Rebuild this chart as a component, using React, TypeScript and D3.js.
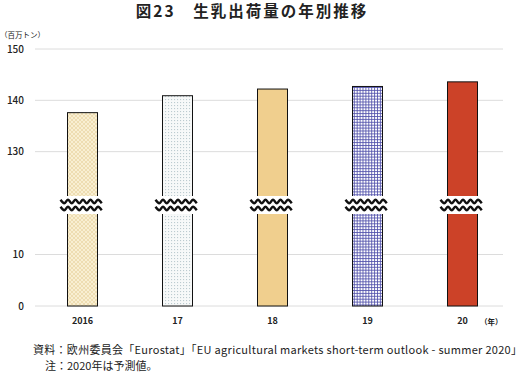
import { useEffect, useRef } from "react";
import * as d3 from "d3";

// データ
const years = ["2016", "17", "18", "19", "20"];
const values = [137.6, 140.9, 142.2, 142.7, 143.6];
const lowTicks = [0, 10];
const highTicks = [130, 140, 150];
const fills = ["url(#p2016)", "url(#p2017)", "#f0cf8e", "url(#p2019)", "#cc4228"];

const W = 531;
const H = 372;
const FONT = "'Noto Sans CJK JP', 'Noto Sans', sans-serif";

export default function App() {
  const svgRef = useRef<SVGSVGElement>(null);

  useEffect(() => {
    if (!svgRef.current) return;
    const svg = d3.select(svgRef.current);
    svg.selectAll("*").remove();

    const left = 35;
    const right = 510;
    const breakY = 203;

    // 軸の省略：下段 0〜20、上段 120〜150
    const yLow = d3.scaleLinear().domain([0, 20]).range([306, breakY]);
    const yHigh = d3.scaleLinear().domain([120, 150]).range([breakY, 49]);
    const y = (v: number) => (v <= 20 ? yLow(v) : yHigh(v));

    const x = d3.scaleBand().domain(years).range([left, right]).padding(0);
    const barW = 30;

    // パターン
    const defs = svg.append("defs");
    const p16 = defs
      .append("pattern")
      .attr("id", "p2016")
      .attr("width", 4)
      .attr("height", 4)
      .attr("patternUnits", "userSpaceOnUse");
    p16.append("rect").attr("width", 4).attr("height", 4).attr("fill", "#f9efd2");
    p16
      .append("path")
      .attr("d", "M0,0L4,4M4,0L0,4")
      .attr("stroke", "#e6d09c")
      .attr("stroke-width", 0.6);

    const p17 = defs
      .append("pattern")
      .attr("id", "p2017")
      .attr("width", 3)
      .attr("height", 3)
      .attr("patternUnits", "userSpaceOnUse");
    p17.append("rect").attr("width", 3).attr("height", 3).attr("fill", "#f7f9f9");
    p17.append("rect").attr("width", 1.1).attr("height", 1.1).attr("fill", "#bccbd0");

    const p19 = defs
      .append("pattern")
      .attr("id", "p2019")
      .attr("width", 2.9)
      .attr("height", 2.9)
      .attr("patternUnits", "userSpaceOnUse");
    p19.append("rect").attr("width", 2.9).attr("height", 2.9).attr("fill", "#ffffff");
    p19
      .append("path")
      .attr("d", "M0.5,0V2.9M0,0.5H2.9")
      .attr("stroke", "#5050aa")
      .attr("stroke-width", 0.85);

    // タイトル
    svg
      .append("text")
      .attr("x", 252)
      .attr("y", 17)
      .attr("text-anchor", "middle")
      .attr("font-size", 15.5)
      .attr("font-weight", "bold")
      .attr("letter-spacing", 2)
      .attr("fill", "#222")
      .text("図23　生乳出荷量の年別推移");

    // 単位
    svg
      .append("text")
      .attr("x", 0)
      .attr("y", 38)
      .attr("font-size", 7.5)
      .attr("fill", "#222")
      .text("（百万トン）");

    // グリッド
    const ticks = [...lowTicks, ...highTicks];
    svg
      .append("g")
      .selectAll("line")
      .data(ticks)
      .enter()
      .append("line")
      .attr("x1", left)
      .attr("x2", 503)
      .attr("y1", (d) => y(d))
      .attr("y2", (d) => y(d))
      .attr("stroke", "#dcdcdc")
      .attr("stroke-width", 1);

    svg
      .append("g")
      .selectAll("text")
      .data(ticks)
      .enter()
      .append("text")
      .attr("x", 24)
      .attr("y", (d) => y(d) + 3.5)
      .attr("text-anchor", "end")
      .attr("font-size", 10)
      .attr("font-weight", 500)
      .attr("fill", "#222")
      .text((d) => String(d));

    // 棒
    const bars = svg.append("g");
    years.forEach((yr, i) => {
      const bx = (x(yr) || 0) + (x.bandwidth() - barW) / 2;
      bars
        .append("rect")
        .attr("x", bx)
        .attr("y", y(values[i]))
        .attr("width", barW)
        .attr("height", y(0) - y(values[i]))
        .attr("fill", fills[i])
        .attr("stroke", "#111")
        .attr("stroke-width", 1);
    });

    // 省略記号（波線）
    const wave = (x0: number, x1: number, cy: number) => {
      const pts: [number, number][] = [];
      let k = 0;
      for (let px = x0; px <= x1 + 0.01; px += 3.75) {
        pts.push([px, cy + (k % 2 === 0 ? -1.7 : 1.7)]);
        k++;
      }
      return d3.line().curve(d3.curveCatmullRom)(pts) || "";
    };
    const brk = svg.append("g");
    years.forEach((yr) => {
      const bx = (x(yr) || 0) + (x.bandwidth() - barW) / 2;
      brk
        .append("rect")
        .attr("x", bx - 8)
        .attr("y", breakY - 7)
        .attr("width", barW + 16)
        .attr("height", 18)
        .attr("fill", "#fff");
      [breakY - 1.5, breakY + 5.5].forEach((cy) => {
        brk
          .append("path")
          .attr("d", wave(bx - 7, bx + barW + 7, cy))
          .attr("fill", "none")
          .attr("stroke", "#111")
          .attr("stroke-width", 2.4);
      });
    });

    // X軸ラベル
    svg
      .append("g")
      .selectAll("text")
      .data(years)
      .enter()
      .append("text")
      .attr("x", (d) => (x(d) || 0) + x.bandwidth() / 2)
      .attr("y", 324)
      .attr("text-anchor", "middle")
      .attr("font-size", 9)
      .attr("font-weight", "bold")
      .attr("fill", "#222")
      .text((d) => d);

    svg
      .append("text")
      .attr("x", 480)
      .attr("y", 325)
      .attr("font-size", 7.5)
      .attr("font-weight", "bold")
      .attr("fill", "#222")
      .text("（年）");

    // 注記
    svg
      .append("text")
      .attr("x", 33)
      .attr("y", 354)
      .attr("font-size", 11)
      .attr("textLength", 489)
      .attr("lengthAdjust", "spacing")
      .attr("fill", "#222")
      .text("資料：欧州委員会「Eurostat」「EU agricultural markets short-term outlook - summer 2020」");
    svg
      .append("text")
      .attr("x", 45)
      .attr("y", 370)
      .attr("font-size", 11)
      .attr("fill", "#222")
      .text("注：2020年は予測値。");
  }, []);

  return (
    <svg
      ref={svgRef}
      width={W}
      height={H}
      style={{ position: "fixed", top: 0, left: 0, background: "#fff", fontFamily: FONT }}
    />
  );
}
